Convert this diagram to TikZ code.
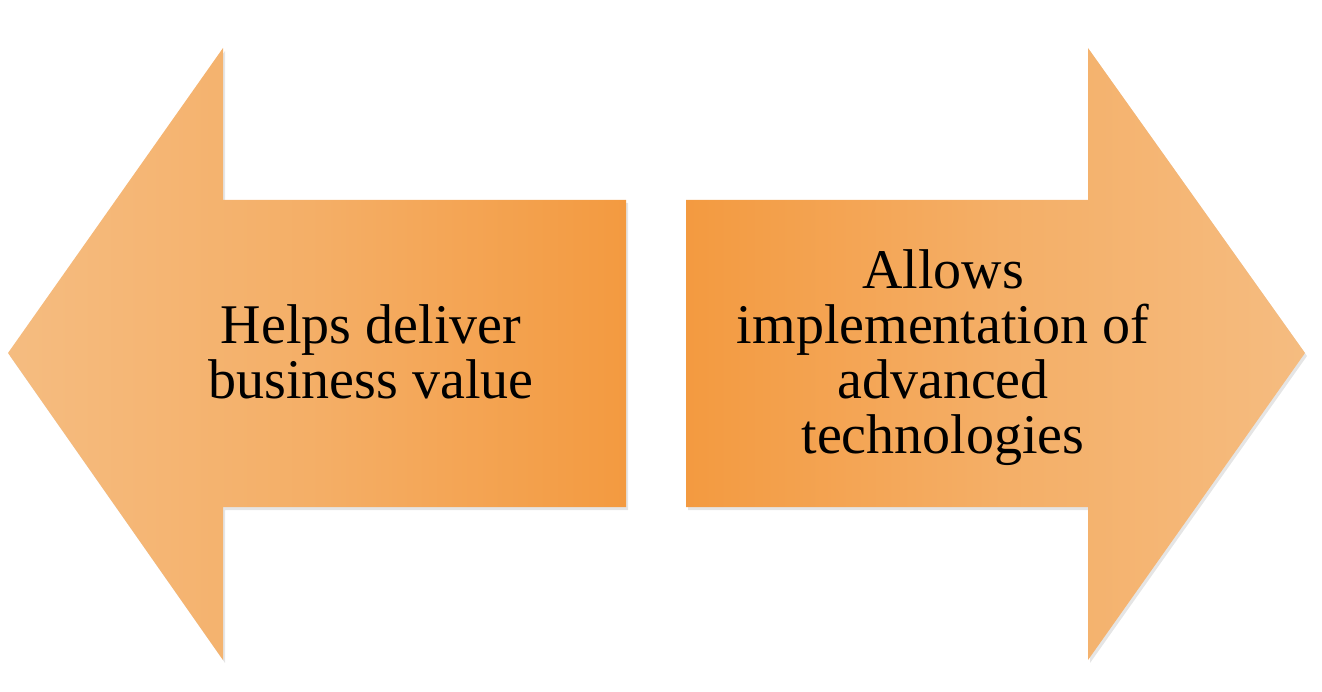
\documentclass[tikz,border=0pt]{standalone}
\usepackage{fontspec}
\setmainfont{Liberation Serif}
\definecolor{lightor}{HTML}{F5BC80}
\definecolor{darkor}{HTML}{F39A40}
\tikzset{
  arrowshadow/.style={fill=black, fill opacity=0.10, draw=none},
  lbl/.style={align=center, inner sep=0pt, font=\fontsize{56}{55}\selectfont, text=black}
}
\begin{document}
\begin{tikzpicture}[x=1pt,y=-1pt]
\useasboundingbox (0,0) rectangle (1322,692);
% left arrow
\fill[arrowshadow] ([shift={(2,3)}]8,353) -- ++(215,-305) -- ++(0,152) -- ++(403,0) -- ++(0,307) -- ++(-403,0) -- ++(0,153) -- cycle;
\shade[left color=lightor, right color=darkor, middle color=lightor!60!darkor]
  (8,353) -- (223,48) -- (223,200) -- (626,200) -- (626,507) -- (223,507) -- (223,660) -- cycle;
% right arrow
\fill[arrowshadow] ([shift={(2,3)}]1305,353) -- ++(-217,-305) -- ++(0,152) -- ++(-402,0) -- ++(0,307) -- ++(402,0) -- ++(0,153) -- cycle;
\shade[left color=darkor, right color=lightor, middle color=lightor!60!darkor]
  (1305,353) -- (1088,48) -- (1088,200) -- (686,200) -- (686,507) -- (1088,507) -- (1088,660) -- cycle;
\node[lbl] (lt) at (371,352) {Helps deliver\\business value};
\node[lbl] (rt) at (943,358) {Allows\\implementation of\\advanced\\technologies};
\end{tikzpicture}
\end{document}
